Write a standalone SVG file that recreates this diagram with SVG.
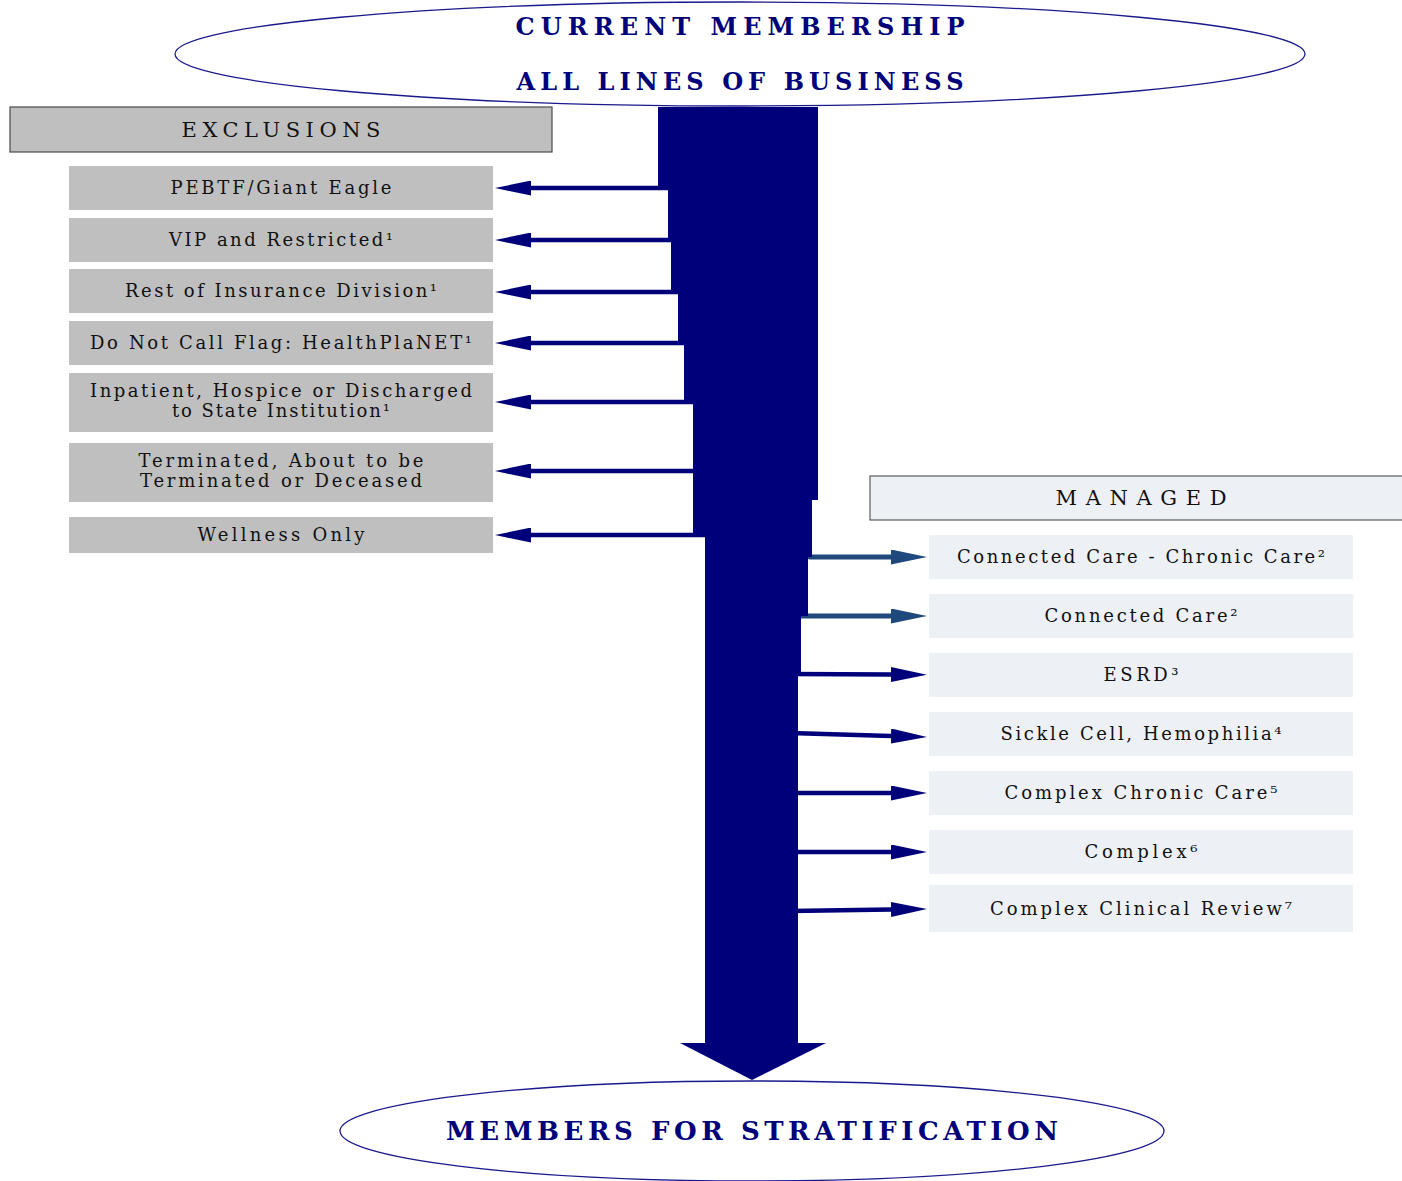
<svg xmlns="http://www.w3.org/2000/svg" width="1402" height="1181" viewBox="0 0 1402 1181">
  <style>
    .title { font-family: "DejaVu Serif", "Liberation Serif", serif; font-weight: bold; fill: #00007a; text-anchor: middle; }
    .lbl { font-family: "DejaVu Serif", "Liberation Serif", serif; font-size: 18px; fill: #111; text-anchor: middle; }
    .head { font-family: "DejaVu Serif", "Liberation Serif", serif; font-size: 21px; fill: #111; text-anchor: middle; }
    .oval { fill: #fff; stroke: #1a1a8c; stroke-width: 1.3; }
    .excl { fill: #bfbfbf; }
    .mng { fill: #edf0f5; }
    .hdr-excl { fill: #bfbfbf; stroke: #4a4a4a; stroke-width: 1.2; }
    .hdr-mng { fill: #edf0f5; stroke: #5a5a5a; stroke-width: 1.2; }
    .ln { fill: none; stroke: #00007a; stroke-width: 4.5; }
    .ln-blue { fill: none; stroke: #1f497d; stroke-width: 5; stroke-linecap: round; }
  </style>
  <defs>
    <marker id="tipNavy" viewBox="0 0 36 15" refX="0" refY="7.5" markerWidth="36" markerHeight="15" markerUnits="userSpaceOnUse" orient="auto">
      <path d="M0,0 L36,7.5 L0,15 Z" fill="#00007a"/>
    </marker>
    <marker id="tipBlue" viewBox="0 0 36 15" refX="0" refY="7.5" markerWidth="36" markerHeight="15" markerUnits="userSpaceOnUse" orient="auto">
      <path d="M0,0 L36,7.5 L0,15 Z" fill="#1f497d"/>
    </marker>
  </defs>

  <rect width="1402" height="1181" fill="#fff"/>

  <!-- source population -->
  <g id="current-membership">
    <ellipse class="oval" cx="740" cy="54" rx="565" ry="52"/>
    <text class="title" x="740" y="35" font-size="24" textLength="449" lengthAdjust="spacing">CURRENT MEMBERSHIP</text>
    <text class="title" x="740" y="90" font-size="24" textLength="447" lengthAdjust="spacing">ALL LINES OF BUSINESS</text>
  </g>

  <!-- exclusion column -->
  <g id="exclusions-header">
    <rect class="hdr-excl" x="10" y="107" width="542" height="45"/>
    <text class="head" x="281" y="137" textLength="199" lengthAdjust="spacing">EXCLUSIONS</text>
  </g>
  <g id="excl-pebtf">
    <rect class="excl" x="69" y="166" width="424" height="44"/>
    <text class="lbl" x="281" y="194" textLength="221" lengthAdjust="spacing">PEBTF/Giant Eagle</text>
  </g>
  <g id="excl-vip">
    <rect class="excl" x="69" y="218" width="424" height="44"/>
    <text class="lbl" x="281" y="246" textLength="224" lengthAdjust="spacing">VIP and Restricted¹</text>
  </g>
  <g id="excl-insurance">
    <rect class="excl" x="69" y="269" width="424" height="44"/>
    <text class="lbl" x="281" y="297" textLength="312" lengthAdjust="spacing">Rest of Insurance Division¹</text>
  </g>
  <g id="excl-dnc">
    <rect class="excl" x="69" y="321" width="424" height="44"/>
    <text class="lbl" x="281" y="349" textLength="382" lengthAdjust="spacing">Do Not Call Flag: HealthPlaNET¹</text>
  </g>
  <g id="excl-inpatient">
    <rect class="excl" x="69" y="373" width="424" height="59"/>
    <text class="lbl" x="281" y="397" textLength="382" lengthAdjust="spacing">Inpatient, Hospice or Discharged</text>
    <text class="lbl" x="281" y="417" textLength="218" lengthAdjust="spacing">to State Institution¹</text>
  </g>
  <g id="excl-terminated">
    <rect class="excl" x="69" y="443" width="424" height="59"/>
    <text class="lbl" x="281" y="467" textLength="285" lengthAdjust="spacing">Terminated, About to be</text>
    <text class="lbl" x="281" y="487" textLength="282" lengthAdjust="spacing">Terminated or Deceased</text>
  </g>
  <g id="excl-wellness">
    <rect class="excl" x="69" y="517" width="424" height="36"/>
    <text class="lbl" x="281" y="541" textLength="167" lengthAdjust="spacing">Wellness Only</text>
  </g>

  <!-- managed column -->
  <g id="managed-header">
    <rect class="hdr-mng" x="870" y="476" width="540" height="44"/>
    <text class="head" x="1141" y="505" textLength="171" lengthAdjust="spacing">MANAGED</text>
  </g>
  <g id="mng-cc-chronic">
    <rect class="mng" x="929" y="535" width="424" height="44"/>
    <text class="lbl" x="1141" y="563" textLength="368" lengthAdjust="spacing">Connected Care - Chronic Care²</text>
  </g>
  <g id="mng-cc">
    <rect class="mng" x="929" y="594" width="424" height="44"/>
    <text class="lbl" x="1141" y="622" textLength="193" lengthAdjust="spacing">Connected Care²</text>
  </g>
  <g id="mng-esrd">
    <rect class="mng" x="929" y="653" width="424" height="44"/>
    <text class="lbl" x="1141" y="681" textLength="75" lengthAdjust="spacing">ESRD³</text>
  </g>
  <g id="mng-sickle">
    <rect class="mng" x="929" y="712" width="424" height="44"/>
    <text class="lbl" x="1141" y="740" textLength="281" lengthAdjust="spacing">Sickle Cell, Hemophilia⁴</text>
  </g>
  <g id="mng-complex-chronic">
    <rect class="mng" x="929" y="771" width="424" height="44"/>
    <text class="lbl" x="1141" y="799" textLength="273" lengthAdjust="spacing">Complex Chronic Care⁵</text>
  </g>
  <g id="mng-complex">
    <rect class="mng" x="929" y="830" width="424" height="44"/>
    <text class="lbl" x="1141" y="858" textLength="113" lengthAdjust="spacing">Complex⁶</text>
  </g>
  <g id="mng-review">
    <rect class="mng" x="929" y="885" width="424" height="47"/>
    <text class="lbl" x="1141" y="915" textLength="302" lengthAdjust="spacing">Complex Clinical Review⁷</text>
  </g>

  <!-- result population -->
  <g id="members-for-stratification">
    <ellipse class="oval" cx="752" cy="1131" rx="412" ry="50"/>
    <text class="title" x="752" y="1140" font-size="26" textLength="612" lengthAdjust="spacing">MEMBERS FOR STRATIFICATION</text>
  </g>

  <!-- flow: branch arrows and the narrowing trunk -->
  <g id="connectors">
    <g id="branches-out">
      <path class="ln" d="M700,188 L531,188" marker-end="url(#tipNavy)"/>
      <path class="ln" d="M700,240 L531,240" marker-end="url(#tipNavy)"/>
      <path class="ln" d="M700,292 L531,292" marker-end="url(#tipNavy)"/>
      <path class="ln" d="M700,343 L531,343" marker-end="url(#tipNavy)"/>
      <path class="ln" d="M700,402 L531,402" marker-end="url(#tipNavy)"/>
      <path class="ln" d="M710,471 L531,471" marker-end="url(#tipNavy)"/>
      <path class="ln" d="M710,535 L531,535" marker-end="url(#tipNavy)"/>
    </g>
    <g id="branches-managed">
      <path class="ln-blue" d="M810,557 L891,557" marker-end="url(#tipBlue)"/>
      <path class="ln-blue" d="M798,616 L891,616" marker-end="url(#tipBlue)"/>
      <path class="ln" d="M790,674 L891,674.5" marker-end="url(#tipNavy)"/>
      <path class="ln" d="M790,733 L891,736" marker-end="url(#tipNavy)"/>
      <path class="ln" d="M790,793 L891,793" marker-end="url(#tipNavy)"/>
      <path class="ln" d="M790,852 L891,852" marker-end="url(#tipNavy)"/>
      <path class="ln" d="M790,911 L891,909.5" marker-end="url(#tipNavy)"/>
    </g>
    <path id="trunk" fill="#00007a" d="M658,107 L818,107 L818,500 L812,500 L812,557 L808,557 L808,616 L801,616 L801,672 L798,672 L798,1043 L826,1043 L752,1080 L680,1043 L705,1043 L705,537 L693,537 L693,404 L684,404 L684,345 L678,345 L678,294 L671,294 L671,242 L668,242 L668,190 L658,190 Z"/>
  </g>
</svg>
